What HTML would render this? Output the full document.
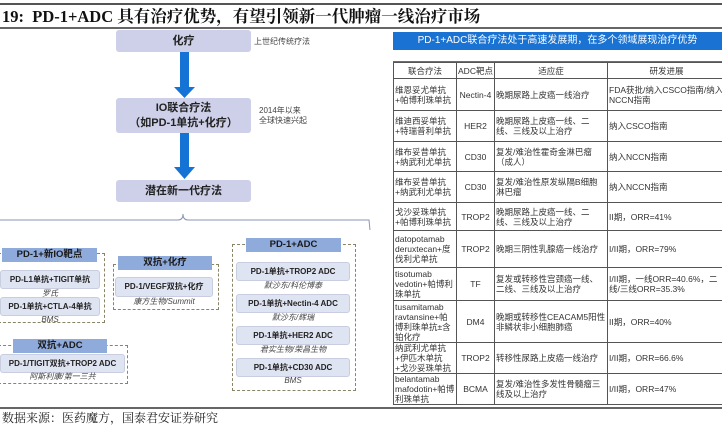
<!DOCTYPE html>
<html><head><meta charset="utf-8"><style>
*{margin:0;padding:0;box-sizing:border-box}
body{width:722px;height:418px;background:#fff;position:relative;overflow:hidden;font-family:"Liberation Sans","Noto Sans CJK SC",sans-serif;color:#222}
.a{position:absolute}
.sb{background:#cdd0e8;border-radius:3px;text-align:center;font-weight:bold;font-size:11px;color:#222}
.hd{background:#8fabdc;text-align:center;font-weight:bold;font-size:9.5px;color:#1a1a1a;line-height:14px}
.it{background:#dfe4f2;border:1px solid #c8cde0;border-radius:3px;text-align:center;font-weight:bold;font-size:8px;line-height:17px;color:#222}
.cap{text-align:center;font-style:italic;font-size:8px;color:#444}
.dash{border:1.5px dashed #8a8466}
.note{font-size:8px;color:#444;line-height:10px}
table{border-collapse:collapse;font-size:8.5px;color:#333;line-height:10px;table-layout:fixed}
td{border:1px solid #555;padding:0 1px;vertical-align:middle;overflow:hidden}
</style></head><body>
<div class="a" style="left:0;top:3px;width:722px;height:2px;background:#555"></div>
<div class="a" style="left:2px;top:7px;font-family:'Liberation Serif','Noto Serif CJK SC',serif;font-weight:bold;font-size:16.5px;line-height:19px;color:#111">19:&nbsp; PD-1+ADC 具有治疗优势，有望引领新一代肿瘤一线治疗市场</div>
<div class="a" style="left:0;top:27px;width:722px;height:2px;background:#666"></div>

<div class="a sb" style="left:116px;top:30px;width:135px;height:22px;line-height:22px">化疗</div>
<div class="a note" style="left:254px;top:37px">上世纪传统疗法</div>
<svg class="a" style="left:170px;top:52px" width="30" height="128">
<rect x="10" y="0" width="9" height="36" fill="#1673d6"/><polygon points="4,35 25,35 14.5,46" fill="#1673d6"/>
<rect x="10" y="81" width="9" height="36" fill="#1673d6"/><polygon points="4,115 25,115 14.5,127" fill="#1673d6"/>
</svg>
<div class="a sb" style="left:116px;top:98px;width:135px;height:35px;line-height:15px;padding-top:3px">IO联合疗法<br>（如PD-1单抗+化疗）</div>
<div class="a note" style="left:259px;top:106px">2014年以来<br>全球快速兴起</div>
<div class="a sb" style="left:116px;top:180px;width:135px;height:22px;line-height:22px">潜在新一代疗法</div>
<svg class="a" style="left:0;top:205px" width="380" height="30"><path d="M0,15 L178,15 Q183,15 183,9 Q183,15 188,15 L369,15 L370,25" fill="none" stroke="#8a95b5" stroke-width="1"/></svg>

<div class="a dash" style="left:-2px;top:253px;width:107px;height:70px"></div>
<div class="a hd" style="left:2px;top:248px;width:95px">PD-1+新IO靶点</div>
<div class="a it" style="left:0;top:270px;width:100px;height:19px">PD-L1单抗+TIGIT单抗</div>
<div class="a cap" style="left:0;top:288px;width:100px">罗氏</div>
<div class="a it" style="left:0;top:297px;width:100px;height:19px">PD-1单抗+CTLA-4单抗</div>
<div class="a cap" style="left:0;top:315px;width:100px">BMS</div>

<div class="a dash" style="left:113px;top:264px;width:106px;height:46px"></div>
<div class="a hd" style="left:118px;top:256px;width:94px">双抗+化疗</div>
<div class="a it" style="left:115px;top:277px;width:98px;height:20px;line-height:18px">PD-1/VEGF双抗+化疗</div>
<div class="a cap" style="left:115px;top:296px;width:98px">康方生物/Summit</div>

<div class="a dash" style="left:-2px;top:345px;width:130px;height:39px"></div>
<div class="a hd" style="left:13px;top:339px;width:94px">双抗+ADC</div>
<div class="a it" style="left:0;top:354px;width:125px;height:19px">PD-1/TIGIT双抗+TROP2 ADC</div>
<div class="a cap" style="left:0;top:371px;width:125px">阿斯利康/第一三共</div>

<div class="a dash" style="left:232px;top:244px;width:124px;height:147px"></div>
<div class="a hd" style="left:246px;top:238px;width:95px">PD-1+ADC</div>
<div class="a it" style="left:236px;top:262px;width:114px;height:19px">PD-1单抗+TROP2 ADC</div>
<div class="a cap" style="left:236px;top:280px;width:114px">默沙东/科伦博泰</div>
<div class="a it" style="left:236px;top:294px;width:114px;height:19px">PD-1单抗+Nectin-4 ADC</div>
<div class="a cap" style="left:236px;top:312px;width:114px">默沙东/辉瑞</div>
<div class="a it" style="left:236px;top:326px;width:114px;height:19px">PD-1单抗+HER2 ADC</div>
<div class="a cap" style="left:236px;top:344px;width:114px">君实生物/荣昌生物</div>
<div class="a it" style="left:236px;top:358px;width:114px;height:19px">PD-1单抗+CD30 ADC</div>
<div class="a cap" style="left:236px;top:376px;width:114px">BMS</div>

<div class="a" style="left:393px;top:32px;width:329px;height:18px;background:#1a73d3;color:#fff;font-size:10px;line-height:18px;text-align:center">PD-1+ADC联合疗法处于高速发展期，在多个领域展现治疗优势</div>
<div class="a" style="left:393px;top:61px;width:329px;height:1px;background:#4a72b8"></div>
<table class="a" style="left:393px;top:62px;width:332px">
<colgroup><col style="width:63px"><col style="width:38px"><col style="width:113px"><col style="width:118px"></colgroup>
<tr style="height:16px;white-space:nowrap"><td style="text-align:center">联合疗法</td><td style="text-align:center;padding:0">ADC靶点</td><td style="text-align:center">适应症</td><td style="text-align:center">研发进展</td></tr>
<tr style="height:32px"><td>维恩妥尤单抗+帕博利珠单抗</td><td style="text-align:center;padding:0">Nectin-4</td><td>晚期尿路上皮癌一线治疗</td><td>FDA获批/纳入CSCO指南/纳入NCCN指南</td></tr>
<tr style="height:31px"><td>维迪西妥单抗+特瑞普利单抗</td><td style="text-align:center">HER2</td><td>晚期尿路上皮癌一线、二线、三线及以上治疗</td><td>纳入CSCO指南</td></tr>
<tr style="height:30px"><td>维布妥昔单抗+纳武利尤单抗</td><td style="text-align:center">CD30</td><td>复发/难治性霍奇金淋巴瘤（成人）</td><td>纳入NCCN指南</td></tr>
<tr style="height:31px"><td>维布妥昔单抗+纳武利尤单抗</td><td style="text-align:center">CD30</td><td>复发/难治性原发纵隔B细胞淋巴瘤</td><td>纳入NCCN指南</td></tr>
<tr style="height:28px"><td>戈沙妥珠单抗+帕博利珠单抗</td><td style="text-align:center">TROP2</td><td>晚期尿路上皮癌一线、二线、三线及以上治疗</td><td>II期，ORR=41%</td></tr>
<tr style="height:37px"><td>datopotamab deruxtecan+度伐利尤单抗</td><td style="text-align:center">TROP2</td><td>晚期三阴性乳腺癌一线治疗</td><td>I/II期，ORR=79%</td></tr>
<tr style="height:33px"><td>tisotumab vedotin+帕博利珠单抗</td><td style="text-align:center">TF</td><td>复发或转移性宫颈癌一线、二线、三线及以上治疗</td><td>I/II期，一线ORR=40.6%，二线/三线ORR=35.3%</td></tr>
<tr style="height:42px"><td>tusamitamab ravtansine+帕博利珠单抗±含铂化疗</td><td style="text-align:center">DM4</td><td>晚期或转移性CEACAM5阳性非鳞状非小细胞肺癌</td><td>II期，ORR=40%</td></tr>
<tr style="height:30px"><td>纳武利尤单抗+伊匹木单抗+戈沙妥珠单抗</td><td style="text-align:center">TROP2</td><td>转移性尿路上皮癌一线治疗</td><td>I/II期，ORR=66.6%</td></tr>
<tr style="height:30px;border-bottom:1.5px solid #4a72b8"><td>belantamab mafodotin+帕博利珠单抗</td><td style="text-align:center">BCMA</td><td>复发/难治性多发性骨髓瘤三线及以上治疗</td><td>I/II期，ORR=47%</td></tr>
</table>

<div class="a" style="left:0;top:407px;width:722px;height:2px;background:#666"></div>
<div class="a" style="left:2px;top:411px;font-family:'Liberation Serif','Noto Serif CJK SC',serif;font-size:12px;line-height:14px;color:#222">数据来源：医药魔方，国泰君安证券研究</div>
</body></html>
